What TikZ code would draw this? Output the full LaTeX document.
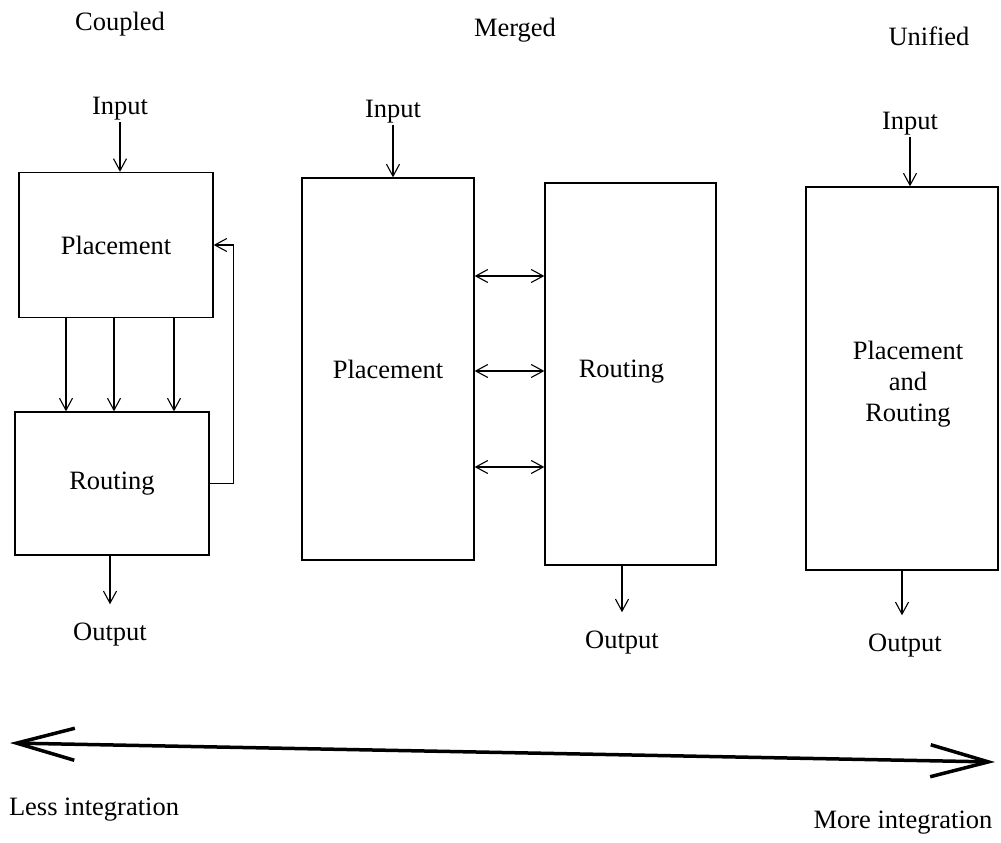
\documentclass[tikz,border=0pt]{standalone}
\usepackage{fontspec}
\setmainfont{Liberation Serif}
\usetikzlibrary{arrows.meta,calc}

\begin{document}
\begin{tikzpicture}[x=1pt,y=-1pt,
  font=\fontsize{26.5}{31}\selectfont,
  box/.style={draw, line width=1.3pt, inner sep=0pt, align=center},
  lbl/.style={inner sep=2pt, anchor=base},
  arr/.style={line width=1.1pt, -{Straight Barb[length=12pt,width=13pt]}},
  darr/.style={line width=1.1pt, {Straight Barb[length=12pt,width=13pt]}-{Straight Barb[length=12pt,width=13pt]}},
  outarr/.style={arr, shorten >=16pt},
  big/.style={line width=3.5pt, {Straight Barb[length=58pt,width=32pt]}-{Straight Barb[length=58pt,width=32pt]}}
]
\useasboundingbox (0,0) rectangle (1001,843);

% ---- Coupled ----
\node[lbl] (t1) at (120,31) {Coupled};
\node[lbl] (in1) at (120,114) {Input};
\node[box, minimum width=194pt, minimum height=145pt] (cp) at (116,245) {Placement};
\node[box, minimum width=194pt, minimum height=143pt] (cr) at (112,483.5) {Routing};
\node[lbl] (out1) at (110,640) {Output};
\draw[arr] (in1) -- (in1 |- cp.north);
\coordinate (d1) at (66,0);
\coordinate (d2) at (114,0);
\coordinate (d3) at (174,0);
\foreach \d in {d1,d2,d3}
  \draw[arr] (\d |- cp.south) -- (\d |- cr.north);
\draw[arr] (cr.east) -- ++(24,0) |- (cp.east);
\draw[outarr] (out1 |- cr.south) -- (out1.north);

% ---- Merged ----
\node[lbl] (t2) at (515,37) {Merged};
\node[lbl] (in2) at (393,117) {Input};
\node[box, minimum width=172pt, minimum height=382pt] (mp) at (388,369) {Placement};
\node[box, minimum width=171pt, minimum height=382pt,
      label={[xshift=-9pt, yshift=2pt]center:Routing}] (mr) at (630.5,374) {};
\node[lbl] (out2) at (622,648) {Output};
\draw[arr] (in2) -- (in2 |- mp.north);
\coordinate (h1) at (0,276);
\coordinate (h2) at (0,371);
\coordinate (h3) at (0,467);
\foreach \h in {h1,h2,h3}
  \draw[darr] (mp.east |- \h) -- (mr.west |- \h);
\draw[outarr] (out2 |- mr.south) -- (out2.north);

% ---- Unified ----
\node[lbl] (t3) at (929,46) {Unified};
\node[lbl] (in3) at (910,129) {Input};
\node[box, minimum width=192pt, minimum height=383pt,
      label={[align=center, xshift=6pt, yshift=-6pt]center:{Placement\\and\\Routing}}] (uni) at (902,378.5) {};
\node[lbl] (out3) at (905,651) {Output};
\draw[arr] (in3) -- (in3 |- uni.north);
\draw[outarr] (uni.south) -- (uni.south |- out3.north);

% ---- integration scale ----
\coordinate (lo) at (10,743);
\coordinate (hi) at (995,762);
\draw[big] (lo) -- (hi);
\node[lbl] (less) at (94,815) {Less integration};
\node[lbl] (more) at (903,828) {More integration};
\end{tikzpicture}
\end{document}
